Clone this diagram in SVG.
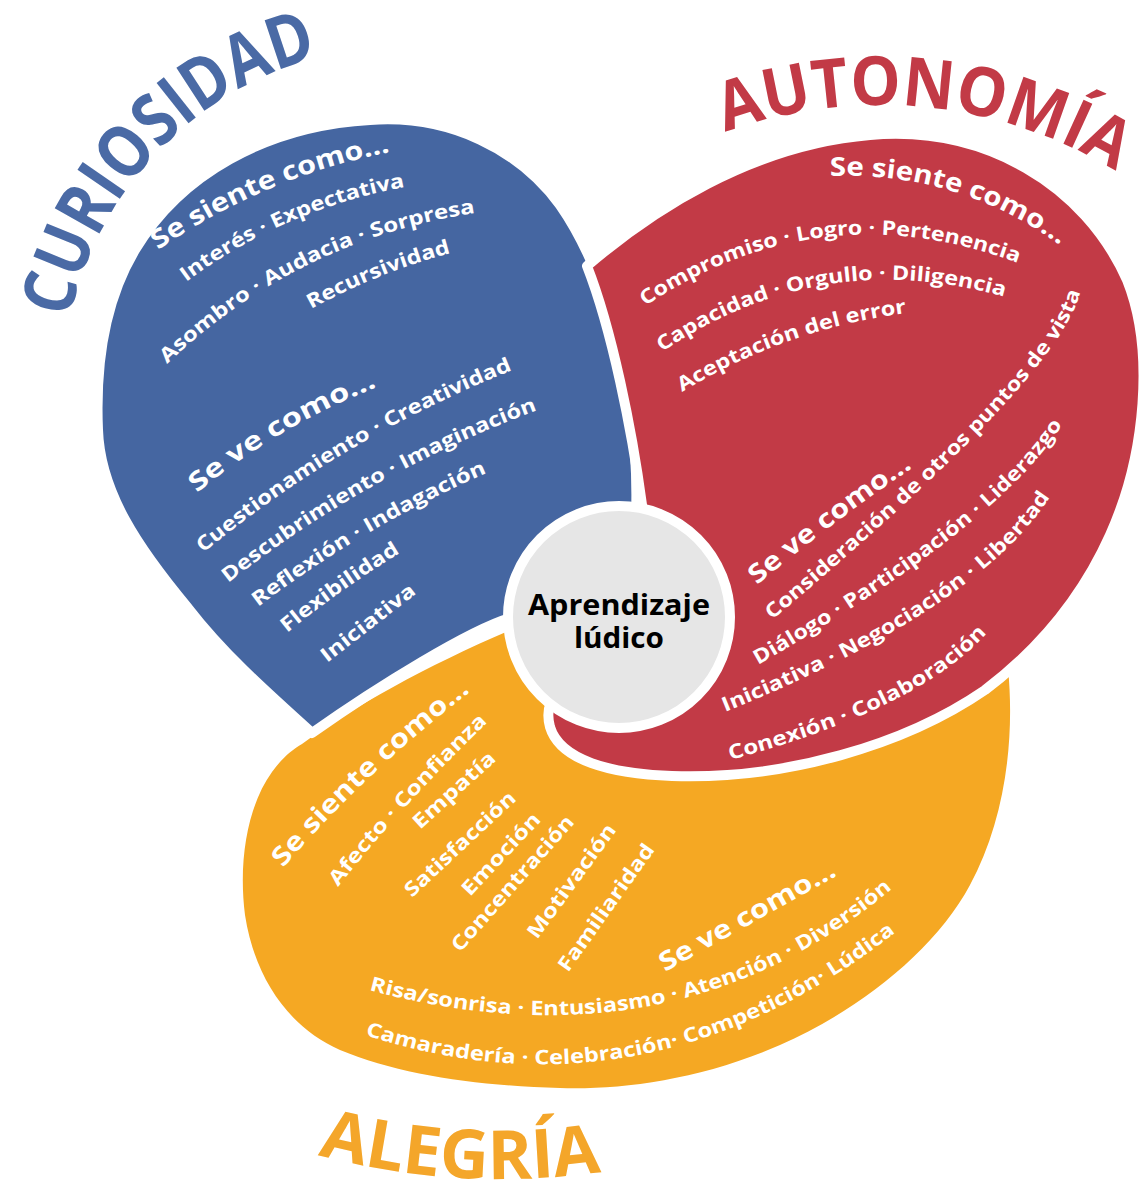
<svg xmlns="http://www.w3.org/2000/svg" width="1140" height="1194" viewBox="0 0 1140 1194">
<style>
.t{font-family:"Open Sans","Liberation Sans",sans-serif;font-weight:700;fill:#fff}
.h{font-size:26px}
.i{font-size:20px}
.ttl{font-family:"Open Sans","Liberation Sans",sans-serif;font-weight:700;font-size:68px}
.petal{stroke:#fff;stroke-width:10;stroke-linejoin:round}
</style>
<defs>
<path id="tc" d="M69.5,318.5 A344,344 0 0 1 317,57.7"/>
<path id="ta" d="M725.1,132.3 A453,453 0 0 1 1115.3,170.9"/>
<path id="tg" d="M317.8,1154.9 A708,708 0 0 0 599.5,1172.1"/>
<path id="b1" d="M158,250 Q264,177 390,152"/>
<path id="b2" d="M186,282 Q284.5,209 405,187"/>
<path id="b3" d="M167,364 Q297,240 475,213"/>
<path id="b4" d="M311,309 Q377.6,272.4 451,253"/>
<path id="b5" d="M197,493 Q278.6,425.8 377,387"/>
<path id="b6" d="M203,553 Q343.5,437 513,370"/>
<path id="b7" d="M228,583 Q369.4,472 538,410"/>
<path id="b8" d="M258,607 Q364.3,525.9 487,473"/>
<path id="b9" d="M287,633 Q340.7,589.1 400,553"/>
<path id="b10" d="M327,663 L417,593"/>
<path id="r1" d="M830,176 Q957,171 1060,245"/>
<path id="r2" d="M645,306 Q820.5,189.5 1018,263"/>
<path id="r3" d="M662,352 Q820.7,244.5 1005,297"/>
<path id="r4" d="M682,392 Q786,328.5 907,313"/>
<path id="r5" d="M757,585 Q831.5,522.5 912,468"/>
<path id="r6" d="M772,620 Q1056.3,381.3 1080,293"/>
<path id="r7" d="M758,665 Q998.9,525.9 1062,425"/>
<path id="r8" d="M725,712 Q976.4,610.3 1050,497"/>
<path id="r9" d="M730,760 Q918,709.6 987,633"/>
<path id="o1" d="M283,868 Q367.3,770.2 470,692"/>
<path id="o2" d="M338,887 Q407.2,799.3 488,722"/>
<path id="o3" d="M420,830 L497,760"/>
<path id="o4" d="M412,898 L517,800"/>
<path id="o5" d="M470,897 L542,820"/>
<path id="o6" d="M460,953 L575,823"/>
<path id="o7" d="M537,940 L617,830"/>
<path id="o8" d="M568,973 L655,850"/>
<path id="o9" d="M665,972 L838,875"/>
<path id="o10" d="M369,990 Q673.9,1071.7 893,888"/>
<path id="o11" d="M365,1035 Q647,1126.6 896,932"/>
</defs>
<rect width="1140" height="1194" fill="#fff"/>

<g id="alegria">
<path fill="#F5A823" d="M302,744 C352,707 430,664 515,628 L600,600 L750,640 L900,650 L1000,640 L1008,668 C1015,740 1005,820 970,885 C935,950 860,1010 780,1045 C700,1080 620,1090 560,1088 C480,1086 400,1075 340,1050 C290,1028 255,980 245,915 C238,860 248,805 272,772 C282,758 292,750 302,744 Z"/>
<text class="ttl" fill="#F4A62A"><textPath href="#tg" textLength="286" lengthAdjust="spacingAndGlyphs">ALEGRÍA</textPath></text>
<text class="t h"><textPath href="#o1" textLength="258" lengthAdjust="spacingAndGlyphs">Se siente como...</textPath></text>
<text class="t i"><textPath href="#o2" textLength="223" lengthAdjust="spacingAndGlyphs">Afecto ·  Confianza</textPath></text>
<text class="t i"><textPath href="#o3" textLength="104" lengthAdjust="spacingAndGlyphs">Empatía</textPath></text>
<text class="t i"><textPath href="#o4" textLength="144" lengthAdjust="spacingAndGlyphs">Satisfacción</textPath></text>
<text class="t i"><textPath href="#o5" textLength="105" lengthAdjust="spacingAndGlyphs">Emoción</textPath></text>
<text class="t i"><textPath href="#o6" textLength="174" lengthAdjust="spacingAndGlyphs">Concentración</textPath></text>
<text class="t i"><textPath href="#o7" textLength="136" lengthAdjust="spacingAndGlyphs">Motivación</textPath></text>
<text class="t i"><textPath href="#o8" textLength="151" lengthAdjust="spacingAndGlyphs">Familiaridad</textPath></text>
<text class="t h"><textPath href="#o9" textLength="198" lengthAdjust="spacingAndGlyphs">Se ve como...</textPath></text>
<text class="t i"><textPath href="#o10" textLength="556" lengthAdjust="spacingAndGlyphs">Risa/sonrisa · Entusiasmo · Atención · Diversión</textPath></text>
<text class="t i"><textPath href="#o11" textLength="565" lengthAdjust="spacingAndGlyphs">Camaradería · Celebración· Competición· Lúdica</textPath></text>
</g>

<g id="curiosidad">
<path class="petal" fill="#4566A1" d="M312,733 C262,688 222,652 188,608 C138,548 100,492 98,430 C95,360 105,300 135,250 C180,175 265,126 370,120 C450,114 520,150 560,205 C595,255 620,330 630,400 C636,450 637,490 636,515 L590,600 L510,618 C470,630 380,685 312,733 Z"/>
<text class="ttl" fill="#4A6AA5" style="font-size:72px"><textPath href="#tc" textLength="380" lengthAdjust="spacingAndGlyphs">CURIOSIDAD</textPath></text>
<text class="t h"><textPath href="#b1" textLength="254" lengthAdjust="spacingAndGlyphs">Se siente como...</textPath></text>
<text class="t i"><textPath href="#b2" textLength="241" lengthAdjust="spacingAndGlyphs">Interés · Expectativa</textPath></text>
<text class="t i"><textPath href="#b3" textLength="349" lengthAdjust="spacingAndGlyphs">Asombro · Audacia · Sorpresa</textPath></text>
<text class="t i"><textPath href="#b4" textLength="151" lengthAdjust="spacingAndGlyphs">Recursividad</textPath></text>
<text class="t h"><textPath href="#b5" textLength="210" lengthAdjust="spacingAndGlyphs">Se ve como...</textPath></text>
<text class="t i"><textPath href="#b6" textLength="361" lengthAdjust="spacingAndGlyphs">Cuestionamiento · Creatividad</textPath></text>
<text class="t i"><textPath href="#b7" textLength="356" lengthAdjust="spacingAndGlyphs">Descubrimiento · Imaginación</textPath></text>
<text class="t i"><textPath href="#b8" textLength="266" lengthAdjust="spacingAndGlyphs">Reflexión · Indagación</textPath></text>
<text class="t i"><textPath href="#b9" textLength="139" lengthAdjust="spacingAndGlyphs">Flexibilidad</textPath></text>
<text class="t i"><textPath href="#b10" textLength="114" lengthAdjust="spacingAndGlyphs">Iniciativa</textPath></text>
</g>

<g id="autonomia">
<path class="petal" fill="#C23A46" d="M587,266 C650,212 750,145 870,135 C985,125 1085,185 1127,280 C1155,350 1146,455 1110,535 C1080,602 1035,652 985,690 C905,745 785,780 672,776 C610,774 560,760 550,727 C545,708 552,695 565,688 L640,600 L642,505 C632,430 612,330 587,266 Z"/>
<text class="ttl" fill="#C23A46"><textPath href="#ta" textLength="406" lengthAdjust="spacingAndGlyphs">AUTONOMÍA</textPath></text>
<text class="t h"><textPath href="#r1" textLength="245" lengthAdjust="spacingAndGlyphs">Se siente como...</textPath></text>
<text class="t i"><textPath href="#r2" textLength="391" lengthAdjust="spacingAndGlyphs">Compromiso · Logro · Pertenencia</textPath></text>
<text class="t i"><textPath href="#r3" textLength="359" lengthAdjust="spacingAndGlyphs">Capacidad · Orgullo · Diligencia</textPath></text>
<text class="t i"><textPath href="#r4" textLength="240" lengthAdjust="spacingAndGlyphs">Aceptación del error</textPath></text>
<text class="t h"><textPath href="#r5" textLength="195" lengthAdjust="spacingAndGlyphs">Se ve como...</textPath></text>
<text class="t i"><textPath href="#r6" textLength="454" lengthAdjust="spacingAndGlyphs">Consideración de otros puntos de vista</textPath></text>
<text class="t i"><textPath href="#r7" textLength="391" lengthAdjust="spacingAndGlyphs">Diálogo · Participación · Liderazgo</textPath></text>
<text class="t i"><textPath href="#r8" textLength="395" lengthAdjust="spacingAndGlyphs">Iniciativa · Negociación · Libertad</textPath></text>
<text class="t i"><textPath href="#r9" textLength="290" lengthAdjust="spacingAndGlyphs">Conexión · Colaboración</textPath></text>
</g>

<g id="centro">
<circle cx="619" cy="617" r="111" fill="#E6E6E6" stroke="#fff" stroke-width="10"/>
<text x="619" y="615" text-anchor="middle" font-family="Open Sans, Liberation Sans, sans-serif" font-weight="700" font-size="28" fill="#000" textLength="182" lengthAdjust="spacingAndGlyphs">Aprendizaje</text>
<text x="619" y="648" text-anchor="middle" font-family="Open Sans, Liberation Sans, sans-serif" font-weight="700" font-size="28" fill="#000" textLength="90" lengthAdjust="spacingAndGlyphs">lúdico</text>
</g>
<g id="connectors"/>
</svg>
